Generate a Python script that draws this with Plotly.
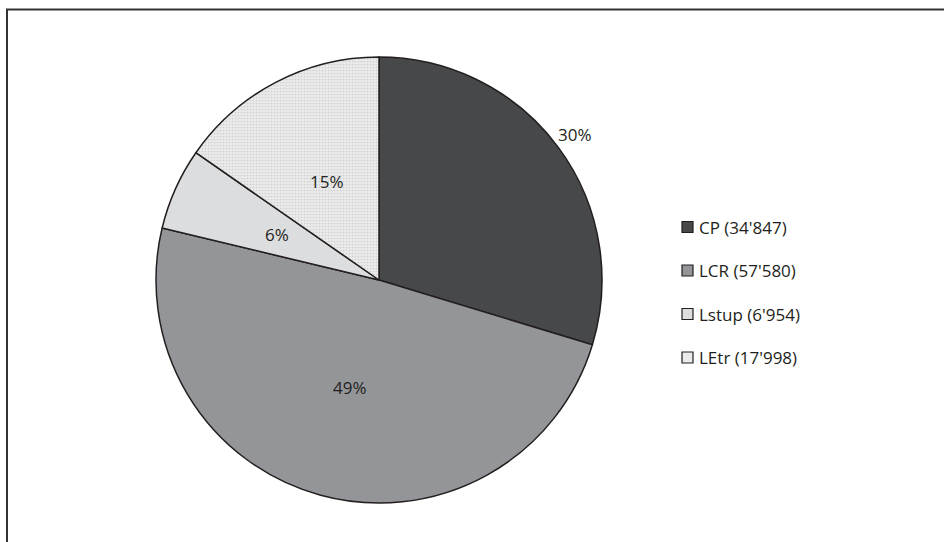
import math
import plotly.graph_objects as go

# Data
categories = ["CP", "LCR", "Lstup", "LEtr"]
counts = [34847, 57580, 6954, 17998]
legend_labels = ["CP (34'847)", "LCR (57'580)", "Lstup (6'954)", "LEtr (17'998)"]

# Style
W, H = 944, 542
fills = ["#47484a", "#939598", "#dcdddf", "#ebebeb"]
edge = "#231f20"
font_family = "Open Sans, Noto Sans, DejaVu Sans, sans-serif"
text_color = "#231f20"

# Pie placement in pixels
cx, cy, R = 379, 280, 223
label_radius = [1.095, 0.5, 0.5, 0.5]

fig = go.Figure()
fig.add_trace(go.Pie(
    labels=categories,
    values=counts,
    sort=False,
    direction="clockwise",
    rotation=0,
    textinfo="none",
    hoverinfo="label+value+percent",
    showlegend=False,
    domain=dict(x=[(cx - R) / W, (cx + R) / W],
                y=[1 - (cy + R) / H, 1 - (cy - R) / H]),
    marker=dict(
        colors=fills,
        line=dict(color=edge, width=1.5),
        pattern=dict(
            shape=["", "", "", "."],
            fgcolor=["#47484a", "#939598", "#dcdddf", "#cfcfcf"],
            bgcolor=fills,
            size=3,
            solidity=0.25,
            fillmode="replace",
        ),
    ),
))

# Percentage labels placed along each slice's mid-angle
total = sum(counts)
cum = 0
annotations = []
for i, v in enumerate(counts):
    frac = v / total
    mid = (cum + frac / 2) * 2 * math.pi
    cum += frac
    r = label_radius[i] * R
    px = cx + r * math.sin(mid)
    py = cy - r * math.cos(mid)
    annotations.append(dict(
        x=px / W, y=1 - py / H, xref="paper", yref="paper",
        text=f"{round(frac * 100)}%", showarrow=False,
        font=dict(family=font_family, size=17, color=text_color),
        xanchor="center", yanchor="middle",
    ))

# Legend drawn as boxes plus text
shapes = []
leg_x0, leg_y0, leg_step, box = 682, 227, 43.5, 11
for i, lab in enumerate(legend_labels):
    yc = leg_y0 + i * leg_step
    shapes.append(dict(
        type="rect", xref="paper", yref="paper",
        x0=leg_x0 / W, x1=(leg_x0 + box) / W,
        y0=1 - (yc + box / 2) / H, y1=1 - (yc - box / 2) / H,
        fillcolor=fills[i], line=dict(color=edge, width=1.2),
    ))
    annotations.append(dict(
        x=(leg_x0 + box + 4) / W, y=1 - yc / H, xref="paper", yref="paper",
        text=lab, showarrow=False,
        font=dict(family=font_family, size=17, color=text_color),
        xanchor="left", yanchor="middle",
    ))

# Frame: top and left edges
shapes.append(dict(
    type="path", xref="paper", yref="paper",
    path=f"M {7 / W},0 L {7 / W},{1 - 9.5 / H} L 1,{1 - 9.5 / H}",
    line=dict(color="#333333", width=2),
))

fig.update_layout(
    width=W, height=H,
    margin=dict(l=0, r=0, t=0, b=0),
    paper_bgcolor="white",
    plot_bgcolor="white",
    shapes=shapes,
    annotations=annotations,
)

fig.write_html("out.html")
